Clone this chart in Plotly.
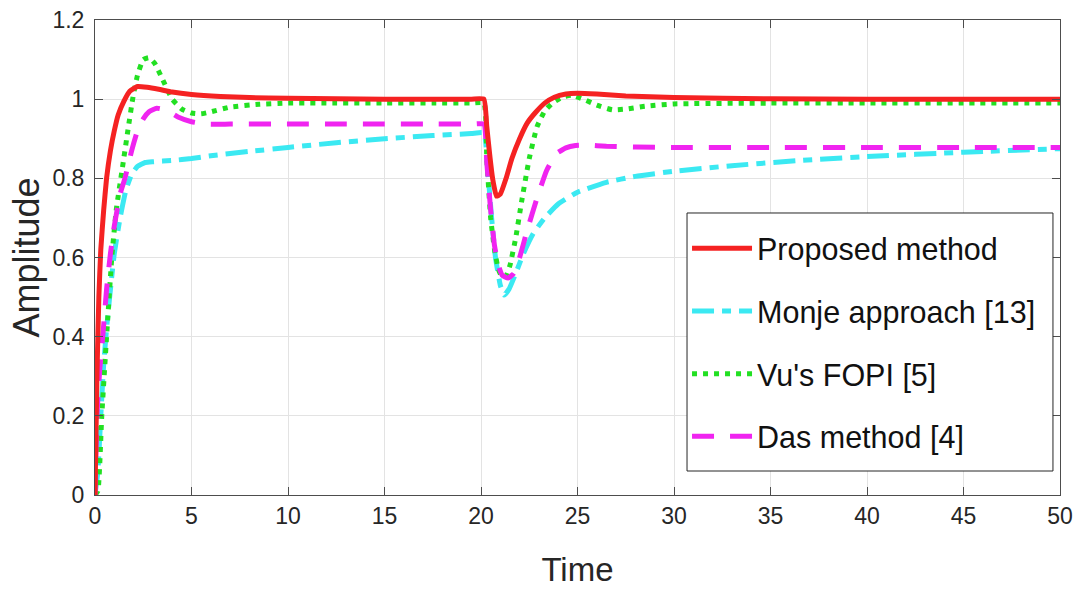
import plotly.graph_objects as go

# ---------------- data ----------------
series_names = ["Proposed method", "Monje approach [13]", "Vu's FOPI [5]", "Das method [4]"]

t_red = [0, 0.1, 0.2, 0.3, 0.45, 0.6, 0.8, 1.0, 1.2, 1.5, 1.8, 2.2, 2.7, 3.3, 4, 5, 6.5, 8, 10,
         12.5, 15, 17.5, 19.5, 20.15, 20.3, 20.45, 20.6, 20.8, 21.0, 21.3, 21.6, 22.0, 22.4, 22.8,
         23.3, 23.8, 24.4, 25.0, 26, 27.5, 30, 35, 40, 45, 50]
y_red = [0, 0.3, 0.5, 0.62, 0.72, 0.8, 0.87, 0.92, 0.96, 0.995, 1.02, 1.032, 1.03, 1.025, 1.018,
         1.012, 1.007, 1.004, 1.002, 1.001, 1.0, 1.0, 1.0, 1.0, 0.93, 0.86, 0.8, 0.755, 0.76, 0.8,
         0.85, 0.9, 0.94, 0.965, 0.99, 1.005, 1.013, 1.015, 1.013, 1.008, 1.004, 1.001, 1.0, 1.0,
         1.0]

t_cyan = [0, 0.15, 0.3, 0.45, 0.6, 0.8, 1.0, 1.3, 1.6, 1.9, 2.2, 2.6, 3, 4, 5, 6, 8, 10, 12.5, 15,
          17.5, 19.5, 20.15, 20.35, 20.55, 20.75, 21.0, 21.2, 21.45, 21.8, 22.2, 22.7, 23.3, 24,
          25, 26.5, 28, 30, 33, 36.5, 40, 45, 50]
y_cyan = [0, 0.06, 0.2, 0.33, 0.42, 0.52, 0.61, 0.7, 0.77, 0.81, 0.83, 0.84, 0.842, 0.845, 0.85,
          0.857, 0.868, 0.878, 0.89, 0.9, 0.908, 0.913, 0.915, 0.82, 0.7, 0.6, 0.53, 0.505, 0.52,
          0.56, 0.61, 0.66, 0.7, 0.735, 0.765, 0.79, 0.805, 0.818, 0.832, 0.845, 0.855, 0.866,
          0.875]

t_green = [0, 0.15, 0.35, 0.6, 0.87, 1.1, 1.4, 1.7, 1.95, 2.2, 2.5, 2.8, 3.1, 3.5, 4.0, 4.5, 5.0,
           5.5, 6, 7, 8.5, 10, 12.5, 15, 17.5, 19.5, 20.15, 20.3, 20.5, 20.7, 20.9, 21.1, 21.3,
           21.5, 21.8, 22.1, 22.5, 22.9, 23.3, 23.7, 24.2, 24.7, 25.3, 26, 26.8, 27.5, 28.5, 30,
           35, 40, 45, 50]
y_green = [0, 0.01, 0.2, 0.4, 0.6, 0.72, 0.82, 0.92, 1.0, 1.06, 1.1, 1.105, 1.09, 1.05, 1.0,
           0.975, 0.965, 0.963, 0.968, 0.98, 0.987, 0.99, 0.99, 0.99, 0.99, 0.99, 0.99, 0.85, 0.7,
           0.62, 0.57, 0.55, 0.553, 0.58, 0.65, 0.74, 0.85, 0.93, 0.97, 0.99, 1.005, 1.01, 1.0,
           0.985, 0.973, 0.975, 0.982, 0.988, 0.99, 0.99, 0.99, 0.99]

t_mag = [0, 0.1, 0.25, 0.4, 0.6, 0.8, 1.0, 1.3, 1.55, 1.9, 2.2, 2.5, 2.8, 3.2, 3.7, 4.3, 5.0, 5.8,
         7, 10, 12.5, 15, 17.5, 19.5, 20.15, 20.3, 20.5, 20.7, 20.9, 21.1, 21.4, 21.7, 22.0, 22.4,
         22.9, 23.4, 23.9, 24.4, 24.9, 25.5, 26.5, 28, 30, 35, 40, 45, 50]
y_mag = [0, 0.2, 0.32, 0.4, 0.52, 0.61, 0.68, 0.76, 0.8, 0.87, 0.92, 0.95, 0.968, 0.977, 0.972,
         0.955, 0.943, 0.937, 0.937, 0.937, 0.937, 0.937, 0.937, 0.937, 0.937, 0.84, 0.72, 0.63,
         0.58, 0.555, 0.548, 0.56, 0.6, 0.67, 0.75, 0.82, 0.862, 0.877, 0.883, 0.884, 0.881,
         0.879, 0.878, 0.878, 0.878, 0.878, 0.878]

x_ticks = [0, 5, 10, 15, 20, 25, 30, 35, 40, 45, 50]
y_ticks = [0, 0.2, 0.4, 0.6, 0.8, 1.0, 1.2]
y_tick_text = ["0", "0.2", "0.4", "0.6", "0.8", "1", "1.2"]

# ---------------- figure ----------------
FONT = "Liberation Sans, Arial, sans-serif"
TXT = "#262626"

fig = go.Figure()
styles = [
    dict(color="#F52222", width=5, dash="solid"),
    dict(color="#3BE9F2", width=5, dash="22px,8px,9px,8px"),
    dict(color="#22E022", width=5, dash="5px,6px"),
    dict(color="#F024F0", width=5, dash="22px,16px"),
]
data = [(t_red, y_red), (t_cyan, y_cyan), (t_green, y_green), (t_mag, y_mag)]
order = [1, 2, 3, 0]  # draw red on top
for i in order:
    tx, ty = data[i]
    fig.add_trace(go.Scatter(
        x=tx, y=ty, mode="lines", name=series_names[i],
        line=dict(shape="spline", smoothing=0.4, **styles[i]),
        legendrank=i + 1, legendgroup=str(i),
    ))

axis_common = dict(
    showline=True, linecolor="#4d4d4d", linewidth=1, mirror="ticks",
    ticks="inside", ticklen=8, tickcolor="#4d4d4d", tickwidth=1,
    showgrid=True, gridcolor="#E3E3E3", gridwidth=1, zeroline=False,
    tickfont=dict(family=FONT, size=23, color=TXT), automargin=False,
    ticklabeloverflow="allow",
)

# legend frame (white box, drawn over the curves like the original)
fig.add_shape(type="rect", xref="paper", yref="paper",
              x0=0.6135, x1=0.9927, y0=0.0505, y1=0.5937,
              line=dict(color="#262626", width=1), fillcolor="white", layer="above")

fig.update_layout(
    width=1077, height=592,
    margin=dict(l=95, r=17, t=20, b=97),
    paper_bgcolor="white", plot_bgcolor="white",
    font=dict(family=FONT, color=TXT),
    xaxis=dict(range=[0, 50], tickvals=x_ticks, **axis_common,
               title=dict(text="Time", font=dict(family=FONT, size=33, color=TXT), standoff=30)),
    yaxis=dict(range=[0, 1.2], tickvals=y_ticks, ticktext=y_tick_text, ticklabelstandoff=5,
               **axis_common,
               title=dict(text="Amplitude", font=dict(family=FONT, size=36, color=TXT), standoff=1)),
    legend=dict(
        x=0.6135, y=0.5747, xanchor="left", yanchor="top",
        bgcolor="rgba(0,0,0,0)", borderwidth=0,
        font=dict(family=FONT, size=30.5, color="#111111"),
        itemwidth=60, tracegroupgap=20, traceorder="grouped",
    ),
    showlegend=True,
)

fig.write_html("out.html", config={"displayModeBar": False},
               post_script="document.body.style.margin='0px';document.body.style.overflow='hidden';")
